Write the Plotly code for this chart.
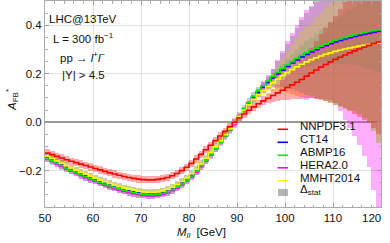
import plotly.graph_objects as go

# ---------------- data ----------------
bins = list(range(50, 120))  # 1 GeV bins, left edges 50..119

nnpdf = [-0.127, -0.134, -0.141, -0.148, -0.155, -0.161, -0.167, -0.173, -0.179, -0.185,
         -0.191, -0.197, -0.203, -0.209, -0.214, -0.219, -0.224, -0.228, -0.232, -0.235,
         -0.237, -0.238, -0.238, -0.236, -0.233, -0.228, -0.221, -0.212, -0.200, -0.186,
         -0.170, -0.152, -0.133, -0.114, -0.095, -0.076, -0.057, -0.038, -0.019, 0.000,
         0.018, 0.034, 0.049, 0.063, 0.076, 0.088, 0.099, 0.110, 0.121, 0.132,
         0.143, 0.154, 0.165, 0.176, 0.190, 0.203, 0.215, 0.227, 0.238, 0.249,
         0.259, 0.268, 0.277, 0.286, 0.294, 0.302, 0.310, 0.317, 0.324, 0.331]

ct14 = [-0.146, -0.156, -0.166, -0.176, -0.186, -0.195, -0.204, -0.213, -0.221, -0.229,
        -0.237, -0.245, -0.252, -0.259, -0.266, -0.272, -0.278, -0.283, -0.287, -0.291,
        -0.294, -0.296, -0.296, -0.294, -0.290, -0.284, -0.275, -0.264, -0.251, -0.236,
        -0.219, -0.199, -0.177, -0.154, -0.130, -0.105, -0.080, -0.055, -0.030, -0.004,
        0.024, 0.052, 0.078, 0.102, 0.124, 0.145, 0.165, 0.183, 0.200, 0.216,
        0.231, 0.245, 0.258, 0.270, 0.281, 0.291, 0.300, 0.309, 0.317, 0.325,
        0.332, 0.338, 0.344, 0.350, 0.355, 0.360, 0.364, 0.368, 0.372, 0.376]

abmp16 = [-0.149, -0.159, -0.169, -0.179, -0.189, -0.198, -0.207, -0.216, -0.224, -0.232,
          -0.240, -0.248, -0.255, -0.262, -0.269, -0.275, -0.281, -0.286, -0.290, -0.294,
          -0.297, -0.299, -0.299, -0.297, -0.293, -0.287, -0.278, -0.267, -0.254, -0.239,
          -0.222, -0.202, -0.180, -0.157, -0.133, -0.108, -0.083, -0.057, -0.031, -0.004,
          0.025, 0.054, 0.081, 0.106, 0.129, 0.150, 0.170, 0.188, 0.205, 0.221,
          0.236, 0.250, 0.263, 0.275, 0.286, 0.296, 0.305, 0.314, 0.322, 0.330,
          0.337, 0.343, 0.349, 0.355, 0.360, 0.365, 0.369, 0.373, 0.377, 0.381]

hera20 = [-0.152, -0.162, -0.172, -0.183, -0.193, -0.202, -0.212, -0.221, -0.229, -0.237,
          -0.245, -0.253, -0.260, -0.267, -0.274, -0.280, -0.286, -0.291, -0.295, -0.299,
          -0.302, -0.304, -0.304, -0.302, -0.298, -0.292, -0.283, -0.272, -0.259, -0.243,
          -0.226, -0.206, -0.184, -0.160, -0.136, -0.110, -0.084, -0.058, -0.032, -0.006,
          0.022, 0.050, 0.076, 0.099, 0.121, 0.142, 0.162, 0.180, 0.197, 0.213,
          0.228, 0.242, 0.255, 0.267, 0.278, 0.288, 0.297, 0.306, 0.314, 0.322,
          0.329, 0.335, 0.341, 0.347, 0.352, 0.357, 0.361, 0.365, 0.369, 0.373]

mmht2014 = [-0.140, -0.150, -0.160, -0.170, -0.180, -0.189, -0.198, -0.207, -0.215, -0.223,
            -0.231, -0.239, -0.246, -0.253, -0.260, -0.266, -0.272, -0.277, -0.281, -0.285,
            -0.288, -0.290, -0.290, -0.288, -0.284, -0.278, -0.269, -0.258, -0.245, -0.230,
            -0.213, -0.194, -0.172, -0.150, -0.126, -0.102, -0.077, -0.052, -0.027, -0.002,
            0.024, 0.050, 0.073, 0.094, 0.113, 0.130, 0.147, 0.163, 0.178, 0.192,
            0.205, 0.217, 0.228, 0.239, 0.249, 0.258, 0.266, 0.273, 0.280, 0.286,
            0.292, 0.297, 0.302, 0.306, 0.310, 0.314, 0.317, 0.320, 0.323, 0.326]

# half-widths of the uncertainty bands
err_nnpdf = [0.015] * 43 + [0.015, 0.016, 0.018, 0.021, 0.025, 0.032, 0.040,
             0.050, 0.060, 0.070, 0.080, 0.092, 0.105, 0.120, 0.135, 0.150, 0.165,
             0.180, 0.200, 0.220, 0.240, 0.260, 0.280, 0.300, 0.320, 0.350, 0.380]
err_ct14 = [0.008] * 43 + [0.009, 0.010, 0.012, 0.014, 0.017, 0.021, 0.025,
            0.030, 0.035, 0.040, 0.046, 0.052, 0.058, 0.064, 0.070, 0.077, 0.084,
            0.091, 0.098, 0.105, 0.113, 0.121, 0.130, 0.140, 0.150, 0.160, 0.170]
err_abmp16 = [0.008] * 43 + [0.009, 0.010, 0.012, 0.014, 0.017, 0.021, 0.025,
              0.030, 0.035, 0.040, 0.046, 0.052, 0.058, 0.064, 0.070, 0.077, 0.084,
              0.091, 0.098, 0.105, 0.113, 0.121, 0.130, 0.140, 0.150, 0.160, 0.170]
err_hera20 = [0.012] * 43 + [0.014, 0.017, 0.022, 0.030, 0.040, 0.058, 0.080,
              0.105, 0.125, 0.145, 0.165, 0.185, 0.190, 0.200, 0.210, 0.220, 0.230,
              0.260, 0.290, 0.330, 0.370, 0.410, 0.450, 0.500, 0.550, 0.650, 0.750]
err_mmht2014 = [0.012] * 43 + [0.013, 0.015, 0.018, 0.022, 0.035, 0.050, 0.068,
                0.088, 0.105, 0.120, 0.132, 0.142, 0.152, 0.166, 0.179, 0.193, 0.206,
                0.220, 0.235, 0.248, 0.256, 0.265, 0.280, 0.300, 0.322, 0.360, 0.410]
err_stat = [0.020] * 43 + [0.021, 0.022, 0.024, 0.028, 0.038, 0.052, 0.070,
            0.090, 0.110, 0.130, 0.150, 0.170, 0.185, 0.200, 0.215, 0.230, 0.245,
            0.260, 0.275, 0.290, 0.300, 0.310, 0.325, 0.345, 0.370, 0.410, 0.460]

series_names = ["NNPDF3.1", "CT14", "ABMP16", "HERA2.0", "MMHT2014"]
x_ticks = [50, 60, 70, 80, 90, 100, 110, 120]
y_ticks = [-0.2, 0.0, 0.2, 0.4]
y_tick_labels = ["\u22120.2", "0.0", "0.2", "0.4"]
info_lines = ["LHC@13TeV", "L = 300 fb<sup>\u22121</sup>",
              "pp \u2192 <i>l</i><sup>+</sup><i>l</i><sup>\u2212</sup>", "|Y| > 4.5"]

# ---------------- figure ----------------
W, H = 390, 243
ML, MR, MT, MB = 45, 9, 1, 36
FONT = "Liberation Sans, Arial, sans-serif"
FS = 11.5

def px(xp):
    return (xp - ML) / (W - ML - MR)

def py(yp):
    return (H - MB - yp) / (H - MB - MT)

centers = [b + 0.5 for b in bins]
edges = bins + [bins[-1] + 1]

def band(center, err, color):
    return go.Bar(x=centers, y=[2 * e for e in err],
                  base=[c - e for c, e in zip(center, err)],
                  width=1, marker=dict(color=color, line=dict(width=0)),
                  showlegend=False, hoverinfo="skip")

def line(center, color, name):
    return go.Scatter(x=edges, y=center + [center[-1]], mode="lines",
                      line=dict(color=color, width=1.6, shape="hv"),
                      name=name, showlegend=False, hoverinfo="skip")

fig = go.Figure()
fig.add_trace(band(hera20, err_hera20, "rgba(255,0,255,0.32)"))
fig.add_trace(band(ct14, err_ct14, "rgba(0,0,255,0.12)"))
fig.add_trace(band(abmp16, err_abmp16, "rgba(0,255,0,0.12)"))
fig.add_trace(band(mmht2014, err_mmht2014, "rgba(255,255,0,0.35)"))
fig.add_trace(band(nnpdf, err_nnpdf, "rgba(255,0,0,0.33)"))
fig.add_trace(band(ct14, err_stat, "rgba(110,110,110,0.33)"))

colors = {"NNPDF3.1": "#ff0000", "CT14": "#0000ff", "ABMP16": "#00ee00",
          "HERA2.0": "#ff00ff", "MMHT2014": "#ffff00"}
fig.add_trace(line(hera20, colors["HERA2.0"], "HERA2.0"))
fig.add_trace(line(ct14, colors["CT14"], "CT14"))
fig.add_trace(line(abmp16, colors["ABMP16"], "ABMP16"))
fig.add_trace(line(mmht2014, colors["MMHT2014"], "MMHT2014"))
fig.add_trace(line(nnpdf, colors["NNPDF3.1"], "NNPDF3.1"))

annotations = []
shapes = []
# info text, top-left
for i, t in enumerate(info_lines):
    annotations.append(dict(text=t, x=px(83), y=py(19 + 18.8 * i), xref="paper", yref="paper",
                            showarrow=False, xanchor="center", yanchor="middle",
                            font=dict(family=FONT, size=FS, color="#111")))
# manual legend
row_text_y = [126, 139, 152, 164.5, 177.5]
for i, nm in enumerate(series_names):
    ly = row_text_y[i] + 3.3
    shapes.append(dict(type="line", xref="paper", yref="paper",
                       x0=px(277.5), x1=px(288), y0=py(ly), y1=py(ly),
                       line=dict(color=colors[nm], width=1.6)))
    annotations.append(dict(text=nm, x=px(298), y=py(row_text_y[i]), xref="paper", yref="paper",
                            showarrow=False, xanchor="left", yanchor="middle",
                            font=dict(family=FONT, size=FS, color="#111")))
shapes.append(dict(type="rect", xref="paper", yref="paper",
                   x0=px(278), x1=px(288), y0=py(189), y1=py(196),
                   fillcolor="rgba(110,110,110,0.5)", line=dict(width=0)))
annotations.append(dict(text="\u0394<sub>stat</sub>", x=px(298), y=py(190), xref="paper", yref="paper",
                        showarrow=False, xanchor="left", yanchor="middle",
                        font=dict(family=FONT, size=FS, color="#111")))
# x tick label at the right edge, shifted inside like the reference
annotations.append(dict(text=str(x_ticks[-1]), x=px(383), y=py(210), xref="paper", yref="paper",
                        showarrow=False, xanchor="right", yanchor="top",
                        font=dict(family=FONT, size=FS, color="#111")))
# axis titles
annotations.append(dict(text="<i>M</i><sub><i>ll</i></sub>  [GeV]", x=px(201), y=py(242),
                        xref="paper", yref="paper", showarrow=False,
                        xanchor="center", yanchor="bottom",
                        font=dict(family=FONT, size=FS, color="#111")))
annotations.append(dict(text="<i>A</i><sub>FB</sub><sup>*</sup>", x=px(12), y=py(100),
                        xref="paper", yref="paper", showarrow=False, textangle=-90,
                        xanchor="center", yanchor="middle",
                        font=dict(family=FONT, size=FS, color="#111")))

fig.update_layout(
    width=W, height=H, margin=dict(l=ML, r=MR, t=MT, b=MB),
    paper_bgcolor="white", plot_bgcolor="white",
    barmode="overlay", bargap=0, showlegend=False,
    font=dict(family=FONT, size=FS, color="#111"),
    annotations=annotations, shapes=shapes,
)
fig.update_xaxes(range=[50, 120], tickvals=x_ticks[:-1], ticks="inside", ticklen=4,
                 tickcolor="#999", showline=True, linecolor="#aaa", linewidth=1, mirror="ticks",
                 showgrid=True, gridcolor="#e2e2e2", gridwidth=1, zeroline=False,
                 minor=dict(dtick=2, ticks="inside", ticklen=2.5, tickcolor="#aaa", showgrid=False),
                 tickfont=dict(family=FONT, size=FS, color="#111"))
fig.update_yaxes(range=[-0.35, 0.5], tickvals=y_ticks, ticktext=y_tick_labels,
                 ticks="inside", ticklen=4, tickcolor="#999",
                 showline=True, linecolor="#aaa", linewidth=1, mirror="ticks",
                 showgrid=True, gridcolor="#e2e2e2", gridwidth=1,
                 zeroline=True, zerolinecolor="#999", zerolinewidth=1.6,
                 minor=dict(dtick=0.05, ticks="inside", ticklen=2.5, tickcolor="#aaa", showgrid=False),
                 tickfont=dict(family=FONT, size=FS, color="#111"))

fig.write_html("out.html", config={"displayModeBar": False},
               post_script="document.body.style.margin='0';document.body.style.padding='0';")
